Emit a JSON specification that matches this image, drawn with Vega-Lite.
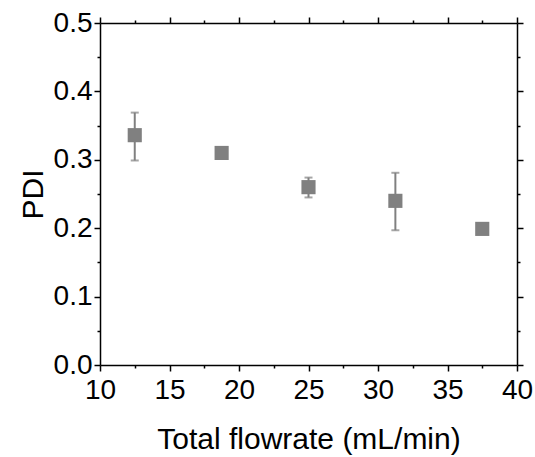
{
  "$schema": "https://vega.github.io/schema/vega-lite/v6.json",
  "autosize": {"type": "none"},
  "padding": {"left": 100, "top": 23, "right": 18, "bottom": 92},
  "width": 417,
  "height": 342,
  "background": "white",
  "config": {
    "view": {"stroke": null},
    "axis": {
      "grid": false,
      "domainColor": "black",
      "domainWidth": 1.5,
      "tickColor": "black",
      "tickWidth": 1.5,
      "labelFont": "Liberation Sans",
      "labelFontSize": 28,
      "labelColor": "black",
      "titleFont": "Liberation Sans",
      "titleFontSize": 30,
      "titleFontWeight": "normal",
      "titleColor": "black"
    }
  },
  "data": {
    "values": [
      {"flow": 12.5, "pdi": 0.336, "lo": 0.299, "hi": 0.369},
      {"flow": 18.75, "pdi": 0.310, "lo": 0.310, "hi": 0.310},
      {"flow": 25, "pdi": 0.260, "lo": 0.245, "hi": 0.274},
      {"flow": 31.25, "pdi": 0.240, "lo": 0.197, "hi": 0.281},
      {"flow": 37.5, "pdi": 0.199, "lo": 0.199, "hi": 0.199}
    ]
  },
  "layer": [
    {
      "mark": {"type": "rule", "color": "#808080", "strokeWidth": 2},
      "encoding": {
        "x": {
          "field": "flow", "type": "quantitative",
          "scale": {"domain": [10, 40], "nice": false, "zero": false},
          "axis": {
            "orient": "bottom",
            "title": "Total flowrate (mL/min)",
            "values": [10, 12.5, 15, 17.5, 20, 22.5, 25, 27.5, 30, 32.5, 35, 37.5, 40],
            "labelExpr": "datum.value % 5 === 0 ? datum.label : ''",
            "tickSize": {"condition": {"test": "datum.value % 5 === 0", "value": 6}, "value": 3},
            "labelPadding": 5,
            "titlePadding": 20,
            "labelFlush": false,
            "labelOverlap": false
          }
        },
        "y": {
          "field": "lo", "type": "quantitative",
          "scale": {"domain": [0, 0.5], "nice": false},
          "axis": {
            "orient": "left",
            "title": "PDI",
            "values": [0, 0.05, 0.1, 0.15, 0.2, 0.25, 0.3, 0.35, 0.4, 0.45, 0.5],
            "labelExpr": "round(datum.value * 100) % 10 === 0 ? format(datum.value, '.1f') : ''",
            "tickSize": {"condition": {"test": "round(datum.value * 100) % 10 === 0", "value": 6}, "value": 3},
            "labelPadding": 2,
            "titlePadding": 5,
            "labelFlush": false,
            "labelOverlap": false
          }
        },
        "y2": {"field": "hi"}
      }
    },
    {
      "mark": {"type": "tick", "orient": "horizontal", "color": "#808080", "size": 8, "thickness": 2},
      "encoding": {
        "x": {"field": "flow", "type": "quantitative", "axis": null},
        "y": {"field": "lo", "type": "quantitative", "axis": null}
      }
    },
    {
      "mark": {"type": "tick", "orient": "horizontal", "color": "#808080", "size": 8, "thickness": 2},
      "encoding": {
        "x": {"field": "flow", "type": "quantitative", "axis": null},
        "y": {"field": "hi", "type": "quantitative", "axis": null}
      }
    },
    {
      "mark": {"type": "square", "color": "#808080", "filled": true, "opacity": 1, "size": 200},
      "encoding": {
        "x": {
          "field": "flow", "type": "quantitative",
          "axis": {
            "orient": "top",
            "title": null,
            "labels": false,
            "values": [10, 12.5, 15, 17.5, 20, 22.5, 25, 27.5, 30, 32.5, 35, 37.5, 40],
            "tickSize": {"condition": {"test": "datum.value % 5 === 0", "value": 6}, "value": 3}
          }
        },
        "y": {
          "field": "pdi", "type": "quantitative",
          "axis": {
            "orient": "right",
            "title": null,
            "labels": false,
            "values": [0, 0.05, 0.1, 0.15, 0.2, 0.25, 0.3, 0.35, 0.4, 0.45, 0.5],
            "tickSize": {"condition": {"test": "round(datum.value * 100) % 10 === 0", "value": 6}, "value": 3}
          }
        }
      }
    }
  ]
}
